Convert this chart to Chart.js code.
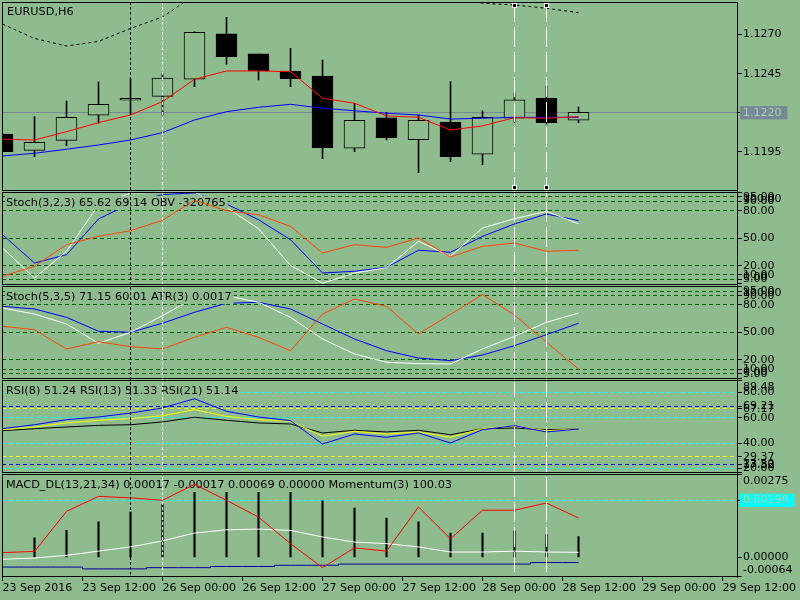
<!DOCTYPE html>
<html>
<head>
<meta charset="utf-8">
<script src="https://cdn.jsdelivr.net/npm/chart.js@4.4.1/dist/chart.umd.min.js"></script>
<style>
html, body { margin: 0; padding: 0; background: #8fbc8f; }
#wrap { position: relative; width: 800px; height: 600px; }
</style>
</head>
<body>
<div id="wrap"><canvas id="chart"></canvas></div>
<script>
// EURUSD H6, 19 bars (index 0 = leftmost, partly cut off)
const openP  = [1.12064, 1.11960, 1.12024, 1.12184, 1.12280, 1.12305, 1.12414, 1.12704, 1.12576, 1.12467, 1.12435, 1.11973, 1.12167, 1.12028, 1.12141, 1.11935, 1.12165, 1.12293, 1.12152];
const highP  = [1.12064, 1.12175, 1.12275, 1.12397, 1.12416, 1.12452, 1.12718, 1.12810, 1.12576, 1.12612, 1.12537, 1.12261, 1.12203, 1.12186, 1.12399, 1.12212, 1.12327, 1.12371, 1.12237];
const lowP   = [1.11951, 1.11919, 1.11990, 1.12133, 1.12186, 1.12186, 1.12367, 1.12510, 1.12410, 1.12367, 1.11907, 1.11951, 1.12026, 1.11817, 1.11888, 1.11868, 1.12139, 1.12128, 1.12137];
const closeP = [1.11951, 1.12011, 1.12171, 1.12254, 1.12293, 1.12421, 1.12714, 1.12559, 1.12469, 1.12418, 1.11977, 1.12152, 1.12041, 1.12152, 1.11920, 1.12171, 1.12282, 1.12137, 1.12203];
const maFast = [1.12031, 1.12026, 1.12079, 1.12137, 1.12186, 1.12271, 1.12414, 1.12467, 1.12467, 1.12463, 1.12293, 1.12261, 1.12180, 1.12171, 1.12090, 1.12116, 1.12169, 1.12165, 1.12175];
const maSlow = [1.11924, 1.11941, 1.11967, 1.11994, 1.12026, 1.12073, 1.12154, 1.12207, 1.12235, 1.12254, 1.12229, 1.12213, 1.12197, 1.12186, 1.12160, 1.12165, 1.12171, 1.12171, 1.12171];
const upperBand = [1.12767, 1.12675, 1.12627, 1.12656, 1.12739, 1.12812, 1.12953, 1.13020, 1.13050, 1.13060, 1.13050, 1.13020, 1.13000, 1.12970, 1.12960, 1.12900, 1.12889, 1.12868, 1.12840];
const bidPrice = 1.1220;
const priceTicks = [1.1270, 1.1245, 1.1220, 1.1195];

// Stoch(3,2,3) + OBV
const st1Main = [39.3, 6.5, 35.7, 86.2, 99.3, 100, 100, 83.5, 60.3, 20.2, 0.8, 12.0, 17.8, 46.6, 30.2, 61.1, 71.2, 79.3, 65.62];
const st1Sig  = [53.8, 22.9, 32.0, 70.9, 88.0, 97.6, 99.3, 87.3, 70.1, 48.3, 12.0, 13.9, 18.2, 36.8, 34.6, 52.0, 65.5, 76.4, 69.14];
const obvLine = [8.4, 19.3, 42.9, 52.0, 58.1, 69.5, 91.3, 80.0, 75.6, 62.9, 33.8, 42.9, 40.0, 50.2, 29.5, 41.1, 44.7, 35.7, 36.8];

// Stoch(5,3,5) + ATR(3)
const st2Main = [76.7, 70.1, 59.2, 38.2, 50.2, 68.3, 88.0, 90.0, 82.9, 66.5, 42.9, 26.5, 17.5, 16.0, 15.6, 32.0, 45.8, 61.1, 71.15];
const st2Sig  = [78.5, 75.6, 66.5, 51.3, 50.2, 60.0, 72.0, 81.8, 82.9, 75.6, 59.2, 42.9, 30.1, 22.1, 19.2, 25.4, 35.6, 47.6, 60.01];
const atrLine = [56.7, 53.0, 32.0, 39.9, 34.5, 32.0, 44.7, 55.6, 44.7, 30.1, 70.1, 86.5, 78.5, 48.3, 69.8, 91.2, 69.0, 39.3, 10.1];
const stochTicks = [100, 95, 90, 80, 50, 20, 10, 5, 0];
const stochLevels = [95, 90, 80, 50, 20, 10, 5];

// RSI(8), RSI(13), RSI(21)
const rsi8  = [51.5, 54.6, 58.6, 60.7, 63.8, 67.8, 75.1, 65.2, 60.7, 57.8, 39.4, 47.3, 44.7, 48.1, 40.2, 50.7, 53.8, 48.9, 51.24];
const rsi13 = [50.7, 52.8, 56.0, 58.1, 59.4, 61.7, 66.5, 61.2, 58.6, 57.3, 45.5, 49.4, 47.3, 48.9, 44.7, 51.5, 53.4, 49.9, 51.33];
const rsi21 = [49.9, 51.5, 52.8, 54.1, 54.6, 56.8, 60.5, 58.1, 56.0, 55.2, 48.1, 50.2, 48.9, 50.2, 46.7, 51.5, 52.0, 50.7, 51.14];
const rsiCyanLevels = [80, 60, 40, 20];
const rsiBlueLevels = [69.21, 23.50];
const rsiYellowLevels = [67.17, 29.37];
const rsiEdges = [89.48, 17.32];

// MACD_DL(13,21,34) + Momentum(3)
const macdHist   = [null, 0.00065, 0.00090, 0.00118, 0.00151, 0.00177, 0.00234, 0.00218, 0.00218, 0.00218, 0.00188, 0.00164, 0.00131, 0.00118, 0.00081, 0.00081, 0.00088, 0.00076, 0.00069];
const macdMain   = [-0.00006, -0.00002, 0.00007, 0.00021, 0.00035, 0.00055, 0.00081, 0.00092, 0.00094, 0.00090, 0.00068, 0.00051, 0.00046, 0.00035, 0.00018, 0.00018, 0.00021, 0.00018, 0.00017];
const macdSignal = [-0.00032, -0.00032, -0.00032, -0.00038, -0.00038, -0.00034, -0.00034, -0.00030, -0.00030, -0.00026, -0.00026, -0.00022, -0.00022, -0.00022, -0.00022, -0.00022, -0.00022, -0.00017, -0.00017];
const momentum   = [0.00016, 0.00020, 0.00153, 0.00203, 0.00198, 0.00190, 0.00243, 0.00190, 0.00134, 0.00046, -0.00034, 0.00032, 0.00021, 0.00168, 0.00062, 0.00157, 0.00157, 0.00181, 0.00131];
const macdLevel = 0.0019;
const macdTicks = [0.00275, 0.0019, 0, -0.00064];

const timeLabels = ['23 Sep 2016', '23 Sep 12:00', '26 Sep 00:00', '26 Sep 12:00', '27 Sep 00:00',
                    '27 Sep 12:00', '28 Sep 00:00', '28 Sep 12:00', '29 Sep 00:00', '29 Sep 12:00'];

// chart objects (vertical lines) anchored on bars
const vlineBars = [4, 5, 16, 17];
const vlineStyle = [
    { color: '#000000', dash: [3, 2], handles: false },
    { color: '#ffffff', dash: [3, 2], handles: false },
    { color: '#ffffff', dash: [20, 5], handles: true },
    { color: '#ffffff', dash: [20, 5], handles: true }
];

const BG = '#8fbc8f';
const tickFont = { family: 'DejaVu Sans', size: 11 };
const titleFont = '11.3px "DejaVu Sans"';
const paneIds = ['yMain', 'ySt1', 'ySt2', 'yRsi', 'yMacd'];
const paneTitles = {
    yMain: 'EURUSD,H6',
    ySt1: 'Stoch(3,2,3) 65.62 69.14 OBV -320765',
    ySt2: 'Stoch(5,3,5) 71.15 60.01 ATR(3) 0.0017',
    yRsi: 'RSI(8) 51.24 RSI(13) 51.33 RSI(21) 51.14',
    yMacd: 'MACD_DL(13,21,34) 0.00017 -0.00017 0.00069 0.00000 Momentum(3) 100.03'
};

function pts(arr) {
    return arr.map((v, i) => ({ x: i, y: v }));
}

function line(data, axis, color, extra) {
    return Object.assign({ type: 'line', data: pts(data), yAxisID: axis, borderColor: color,
        borderWidth: 1, pointRadius: 0, tension: 0, fill: false }, extra || {});
}

const bullish = openP.map((o, i) => closeP[i] >= o);

const datasets = [
    line(maFast, 'yMain', '#ff0000', { titleAfter: true }),
    line(maSlow, 'yMain', '#0000ff'),
    line(upperBand, 'yMain', '#000000', { borderDash: [3, 3] }),
    {
        type: 'bar', yAxisID: 'yMain', grouped: false, barThickness: 21,
        data: openP.map((o, i) => ({ x: i, y: [o, closeP[i]] })),
        backgroundColor: bullish.map(b => b ? BG : '#000000'),
        borderColor: '#000000', borderWidth: 1, borderSkipped: false
    },
    {
        type: 'bar', yAxisID: 'yMain', grouped: false, barThickness: 1,
        data: lowP.map((l, i) => ({ x: i, y: [l, highP[i]] })),
        backgroundColor: '#000000', borderWidth: 0
    },

    line(obvLine, 'ySt1', '#ff4500'),
    line(st1Main, 'ySt1', '#ffffff', { titleAfter: true }),
    line(st1Sig, 'ySt1', '#0000ff'),

    line(atrLine, 'ySt2', '#ff4500'),
    line(st2Main, 'ySt2', '#ffffff', { titleAfter: true }),
    line(st2Sig, 'ySt2', '#0000ff'),

    line(rsi8, 'yRsi', '#0000ff', { titleAfter: true }),
    line(rsi13, 'yRsi', '#ffff00'),
    line(rsi21, 'yRsi', '#000000'),

    line(momentum, 'yMacd', '#ff0000'),
    line(macdMain, 'yMacd', '#ffffff', { titleAfter: true }),
    line(macdSignal, 'yMacd', '#0000a0', { stepped: 'middle' }),
    {
        type: 'bar', yAxisID: 'yMacd', grouped: false, barThickness: 1.5,
        data: pts(macdHist), backgroundColor: '#000000', borderWidth: 0
    }
];

function paneScale(o) {
    return {
        type: 'linear', position: 'right', stack: 'panes', stackWeight: o.weight,
        min: o.range[0], max: o.range[1], beginAtZero: false,
        afterBuildTicks: s => { s.ticks = o.ticks.map(v => ({ value: v })); },
        afterFit: s => { s.width = 63; s.paddingTop = 0; s.paddingBottom = 0; },
        border: { display: true, color: '#000000', width: 1,
            dash: c => (c.tick && o.solid) ? [] : [4, 3] },
        grid: {
            drawOnChartArea: true, lineWidth: 1,
            color: c => (c.tick && o.levelColor(c.tick.value)) || 'rgba(0,0,0,0)',
            tickColor: '#000000', tickLength: 5, tickBorderDash: []
        },
        ticks: {
            autoSkip: false, padding: 1, font: tickFont,
            color: c => (c.tick && o.boxColor && o.boxColor(c.tick.value)) ? '#a9d3a9' : '#000000',
            showLabelBackdrop: c => !!(c.tick && o.boxColor && o.boxColor(c.tick.value)),
            backdropColor: c => (c.tick && o.boxColor && o.boxColor(c.tick.value)) || 'rgba(0,0,0,0)',
            backdropPadding: { left: 3, right: 6, top: 0, bottom: 0 },
            callback: v => {
                const t = o.fmt(v);
                if (o.edges && v === o.edges[0]) return ['', t];
                if (o.edges && v === o.edges[1]) return [t, ''];
                return t;
            }
        }
    };
}

function drawTitle(chart, id) {
    const ctx = chart.ctx;
    const k = paneIds.indexOf(id);
    const s = chart.scales[id];
    const top = k === 0 ? Math.floor(chart.chartArea.top) : Math.floor(s.top) + 1;
    const x = k === 0 ? 7 : 6;
    const y = top + (k === 0 ? 10 : 11);
    const text = paneTitles[id];
    ctx.save();
    ctx.font = titleFont;
    const w = ctx.measureText(text).width;
    ctx.fillStyle = BG;
    ctx.fillRect(x - 1, y - 7, w + 3, 14);
    ctx.fillStyle = '#000000';
    ctx.textBaseline = 'middle';
    ctx.fillText(text, x, y);
    ctx.restore();
}

const panePlugin = {
    id: 'panes',
    beforeDraw(chart) {
        const ctx = chart.ctx;
        ctx.save();
        ctx.fillStyle = BG;
        ctx.fillRect(0, 0, chart.width, chart.height);
        ctx.restore();
    },
    afterDatasetDraw(chart, args) {
        const ds = chart.data.datasets[args.index];
        if (ds.titleAfter) drawTitle(chart, ds.yAxisID);
    },
    afterDatasetsDraw(chart) {
        const ctx = chart.ctx;
        const area = chart.chartArea;
        const xs = chart.scales.x;
        const main = chart.scales.yMain;
        vlineBars.forEach((b, j) => {
            const st = vlineStyle[j];
            const px = Math.floor(xs.getPixelForValue(b)) + 0.5;
            ctx.save();
            ctx.strokeStyle = st.color;
            ctx.lineWidth = 1;
            ctx.setLineDash(st.dash);
            ctx.beginPath();
            ctx.moveTo(px, area.top);
            ctx.lineTo(px, area.bottom);
            ctx.stroke();
            if (st.handles) {
                [area.top + 3, Math.floor(main.bottom) - 4].forEach(hy => {
                    ctx.fillStyle = '#ffffff';
                    ctx.fillRect(px - 2.5, hy - 2, 5, 5);
                    ctx.fillStyle = '#000000';
                    ctx.fillRect(px - 1.5, hy - 1, 3, 3);
                });
            }
            ctx.restore();
        });
    },
    afterDraw(chart) {
        const ctx = chart.ctx;
        const area = chart.chartArea;
        ctx.save();
        ctx.strokeStyle = '#000000';
        ctx.lineWidth = 1;
        paneIds.forEach((id, k) => {
            const s = chart.scales[id];
            const top = k === 0 ? Math.floor(area.top) : Math.floor(s.top) + 1;
            const bottom = k === paneIds.length - 1 ? Math.floor(area.bottom) - 1 : Math.floor(s.bottom) - 1;
            ctx.strokeRect(Math.floor(area.left) + 0.5, top + 0.5, Math.floor(area.right) - Math.floor(area.left), bottom - top);
        });
        ctx.restore();
    }
};

new Chart(document.getElementById('chart').getContext('2d'), {
    type: 'line',
    data: { datasets: datasets },
    plugins: [panePlugin],
    options: {
        responsive: true,
        maintainAspectRatio: false,
        animation: false,
        events: [],
        layout: { padding: { left: 2, top: 2, right: 0, bottom: 0 } },
        plugins: { legend: { display: false }, tooltip: { enabled: false } },
        scales: {
            x: {
                type: 'linear', position: 'bottom', offset: false,
                min: -0.015625, max: 22.953125,
                afterBuildTicks: s => { s.ticks = timeLabels.map((_, k) => ({ value: k * 2.5 })); },
                afterFit: s => { s.height = 23; s.paddingLeft = 0; s.paddingRight = 0; },
                border: { display: false },
                grid: { offset: false, drawOnChartArea: false, drawTicks: true, tickLength: 4, color: '#000000', tickColor: '#000000' },
                ticks: { align: 'start', maxRotation: 0, autoSkip: false, padding: 1, font: tickFont, color: '#000000',
                    callback: (v, i) => timeLabels[i] }
            },
            yMain: paneScale({
                weight: 189, range: [1.11700, 1.12908], ticks: priceTicks, solid: true,
                levelColor: v => v === bidPrice ? '#778899' : null,
                boxColor: v => v === bidPrice ? '#778899' : null,
                fmt: v => v.toFixed(4)
            }),
            ySt1: paneScale({
                weight: 94.5, range: [-1.64, 101.45], ticks: stochTicks, edges: [100, 0],
                levelColor: v => stochLevels.includes(v) ? '#006400' : null,
                fmt: v => v.toFixed(2)
            }),
            ySt2: paneScale({
                weight: 94, range: [-1.31, 101.2], ticks: stochTicks, edges: [100, 0],
                levelColor: v => stochLevels.includes(v) ? '#006400' : null,
                fmt: v => v.toFixed(2)
            }),
            yRsi: paneScale({
                weight: 94, range: [16.14, 90.27],
                ticks: [rsiEdges[0]].concat(rsiCyanLevels, rsiBlueLevels, rsiYellowLevels, [rsiEdges[1]]),
                edges: rsiEdges,
                levelColor: v => rsiCyanLevels.includes(v) ? '#00ffff'
                    : rsiBlueLevels.includes(v) ? '#0000ff'
                    : rsiYellowLevels.includes(v) ? '#ffff00' : null,
                fmt: v => v.toFixed(2)
            }),
            yMacd: paneScale({
                weight: 103.5, range: [-0.00065, 0.00279], ticks: macdTicks, edges: [0.00275, -0.00064],
                levelColor: v => v === macdLevel ? '#00ffff' : null,
                boxColor: v => v === macdLevel ? '#00ffff' : null,
                fmt: v => v.toFixed(5)
            })
        }
    }
});
</script>
</body>
</html>
